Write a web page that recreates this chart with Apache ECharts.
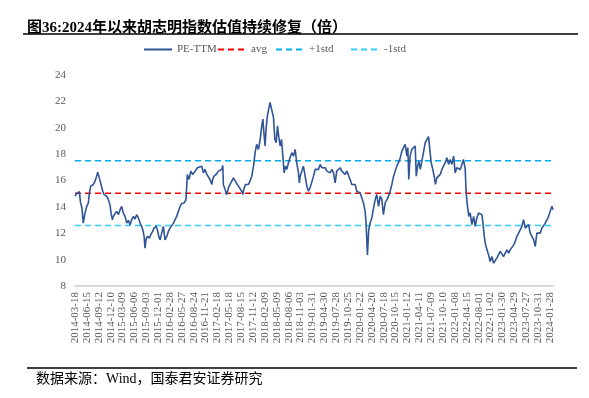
<!DOCTYPE html>
<html>
<head>
<meta charset="utf-8">
<title>胡志明指数估值</title>
<script src="https://cdn.jsdelivr.net/npm/echarts@6/dist/echarts.min.js"></script>
<style>
html, body { margin: 0; padding: 0; background: #fff; }
#main { width: 589px; height: 398px; }
</style>
</head>
<body>
<div id="main"></div>
<script>
// 横轴：数据点序号（原图每 89 个点标一个日期）
var idx = [0,12,25,32,42,52,62,75,88,100,108,118,138,150,162,170,182,195,208,218,230,238,250,262,270,280,288,300,312,325,338,350,362,375,388,400,412,425,438,450,462,475,488,500,508,518,525,532,542,558,568,582,592,608,618,628,638,650,662,675,688,700,712,725,738,750,762,775,788,800,818,832,842,855,868,882,900,918,932,950,962,975,988,1000,1012,1025,1032,1042,1058,1075,1088,1100,1108,1112,1125,1138,1150,1162,1175,1188,1200,1212,1225,1238,1250,1258,1268,1278,1288,1300,1312,1325,1338,1350,1362,1375,1388,1400,1408,1418,1425,1432,1442,1452,1462,1475,1488,1498,1508,1518,1528,1538,1548,1558,1568,1578,1588,1600,1612,1625,1638,1650,1662,1675,1682,1688,1700,1712,1725,1738,1750,1762,1775,1788,1800,1812,1825,1838,1850,1862,1875,1888,1900,1912,1925,1938,1950,1962,1975,1988,2000,2012,2025,2038,2050,2062,2075,2088,2100,2112,2125,2138,2150,2162,2175,2182,2192,2202,2212,2225,2238,2250,2262,2275,2288,2300,2312,2325,2338,2350,2362,2375,2388,2400,2412,2425,2438,2450,2462,2475,2488,2495,2502,2512,2525,2538,2550,2558,2568,2578,2588,2600,2612,2625,2638,2650,2662,2670,2682,2692,2702,2712,2725,2738,2750,2762,2775,2788,2800,2812,2825,2838,2850,2862,2875,2888,2900,2912,2925,2932,2942,2952,2962,2975,2988,3000,3012,3025,3038,3050,3058,3068,3075,3088,3100,3112,3125,3138,3150,3162,3175,3188,3200,3212,3225,3238,3250,3262,3275,3288,3300,3312,3325,3338,3350,3362,3375,3388,3400,3412,3425,3438,3450,3462,3475,3488,3500,3512,3525,3538,3550,3562,3575,3583];
// PE-TTM（倍）
var pe = [14.81,15.0,14.93,15.15,14.30,13.92,12.77,13.54,14.04,14.30,15.06,15.57,15.70,15.95,16.33,16.63,16.20,15.70,15.19,14.93,15.06,14.81,14.55,14.17,13.54,13.03,13.28,13.49,13.66,13.41,13.79,14.04,13.54,13.28,12.77,12.98,12.65,13.03,13.28,13.08,13.41,13.16,12.77,12.52,12.27,11.76,10.87,11.50,11.76,11.63,11.89,12.14,12.39,12.52,12.27,11.76,11.50,11.63,12.52,11.50,11.76,12.14,12.39,12.52,12.77,13.03,13.28,13.66,14.04,14.25,14.30,14.55,16.46,16.08,16.71,16.46,16.71,16.97,16.84,17.09,16.58,16.84,16.46,16.33,16.08,15.70,16.08,16.33,16.46,16.71,16.58,16.84,17.14,15.70,15.31,14.93,15.44,15.70,15.95,16.20,16.08,15.77,15.57,15.62,15.19,14.93,15.44,15.70,15.82,15.70,15.95,16.33,17.09,18.11,18.74,18.36,19.12,20.14,20.65,19.38,18.62,19.89,20.90,21.41,21.92,22.04,20.77,19.12,18.87,20.14,19.25,18.62,19.12,17.85,16.58,17.09,16.84,17.35,17.73,18.11,17.85,18.36,17.35,16.58,15.82,16.33,16.46,17.09,16.33,15.57,15.19,15.44,15.57,16.33,16.84,16.97,16.84,17.22,16.97,16.84,16.97,16.71,16.84,16.58,16.84,16.58,15.82,16.71,16.84,16.97,16.71,16.84,16.46,16.71,16.58,16.08,15.70,15.57,15.70,15.19,15.31,15.06,14.68,14.30,13.66,12.77,10.36,12.27,12.77,13.16,13.92,14.55,14.93,14.04,14.81,14.55,13.41,14.30,14.55,14.81,15.19,15.70,16.33,16.46,17.09,17.35,17.73,18.23,18.49,18.74,17.85,18.49,16.08,17.85,18.36,18.49,18.62,16.33,17.09,17.47,16.84,16.97,18.11,18.87,19.00,19.33,18.11,17.35,16.84,16.33,15.70,16.20,16.33,16.46,16.84,17.09,17.35,17.73,17.22,17.60,17.22,17.85,16.58,16.97,17.09,16.84,17.22,17.60,16.84,15.06,14.04,13.28,13.54,12.65,13.28,12.52,13.16,13.54,13.66,13.41,12.77,11.76,11.25,10.74,10.36,9.85,10.23,9.73,9.60,10.11,9.98,10.62,10.49,10.23,10.49,10.74,10.49,10.74,10.62,11.12,11.38,11.76,12.01,12.27,12.52,13.03,12.39,12.52,12.65,12.01,11.76,11.50,11.00,12.01,12.14,12.01,12.39,12.52,12.77,13.03,13.28,13.66,14.04,13.79];

// 横轴日期标签
var tickLabels = ['2014-03-18','2014-06-15','2014-09-12','2014-12-10','2015-03-09','2015-06-06','2015-09-03','2015-12-01',
	'2016-02-28','2016-05-27','2016-08-24','2016-11-21','2017-02-18','2017-05-18','2017-08-15','2017-11-12',
	'2018-02-09','2018-05-09','2018-08-06','2018-11-03','2019-01-31','2019-04-30','2019-07-28','2019-10-25',
	'2020-01-22','2020-04-20','2020-07-18','2020-10-15','2021-01-12','2021-04-11','2021-07-09','2021-10-10',
	'2022-01-08','2022-04-15','2022-08-01','2022-11-02','2023-01-30','2023-04-29','2023-07-27','2023-10-31','2024-01-28'];

// 均值与标准差
var avgPE = 15.04;
var stdPE = 2.46;

var labelStep = 89;
var endIdx = 3583;
var yTicks = [8, 24, 2]; // min, max, interval

var serif = '"Liberation Serif", "Noto Sans CJK SC", serif';
var gray = '#595959';

var peData = idx.map(function(d, i) { return [d, pe[i]]; });
var flat = function(v) { return [[0, v], [endIdx, v]]; };
var dash = [6, 4];

var myChart = echarts.init(document.getElementById('main'));
var option = {
	animation: false,
	backgroundColor: '#fff',
	title: {
		text: '图36:2024年以来胡志明指数估值持续修复（倍）',
		left: 22,
		top: 16,
		textStyle: { fontFamily: serif, fontSize: 15, fontWeight: 'bold', color: '#000' }
	},
	// 图例分开放，按原图位置摆
	legend: [
		{ data: ['PE-TTM'], left: 143 },
		{ data: ['avg'], left: 217 },
		{ data: ['+1std'], left: 275 },
		{ data: ['-1std'], left: 350 }
	].map(function(l) {
		l.top = 44;
		l.padding = 0;
		l.itemWidth = 28;
		l.itemHeight = 10;
		l.itemGap = 5;
		l.itemStyle = { opacity: 0 };
		l.textStyle = { fontFamily: serif, fontSize: 11, color: gray };
		return l;
	}),
	grid: { left: 75, right: 36, top: 75, bottom: 112 },
	xAxis: {
		type: 'value',
		min: 0,
		max: endIdx,
		interval: labelStep,
		axisLine: { show: true, lineStyle: { color: '#d9d9d9', width: 2 } },
		axisTick: { show: false },
		splitLine: { show: false },
		axisLabel: {
			rotate: 90,
			margin: 6,
			fontFamily: serif,
			fontSize: 11,
			color: gray,
			showMaxLabel: false,
			formatter: function(v) {
				if (v % labelStep !== 0) return '';
				return tickLabels[v / labelStep] || '';
			}
		}
	},
	yAxis: {
		type: 'value',
		min: yTicks[0],
		max: yTicks[1],
		interval: yTicks[2],
		axisLine: { show: false },
		axisTick: { show: false },
		splitLine: { show: false },
		axisLabel: { margin: 9, fontFamily: serif, fontSize: 11, color: gray }
	},
	series: [
		{
			name: 'avg', type: 'line', symbol: 'none', data: flat(avgPE), z: 2,
			lineStyle: { color: '#ff0000', width: 1.5, type: dash }, itemStyle: { color: '#ff0000' }
		},
		{
			name: '+1std', type: 'line', symbol: 'none', data: flat(avgPE + stdPE), z: 2,
			lineStyle: { color: '#00b0f0', width: 1.5, type: dash }, itemStyle: { color: '#00b0f0' }
		},
		{
			name: '-1std', type: 'line', symbol: 'none', data: flat(avgPE - stdPE), z: 2,
			lineStyle: { color: '#33ccff', width: 1.5, type: dash }, itemStyle: { color: '#33ccff' }
		},
		{
			name: 'PE-TTM', type: 'line', symbol: 'none', data: peData, z: 3,
			lineStyle: { color: '#2f5597', width: 1.6 }, itemStyle: { color: '#2f5597' }
		}
	],
	graphic: [
		// 标题下划线
		{ type: 'line', shape: { x1: 23, y1: 34, x2: 578, y2: 34 }, style: { stroke: '#000', lineWidth: 1.5 } },
		// 底部分隔线
		{ type: 'line', shape: { x1: 27, y1: 368, x2: 577, y2: 368 }, style: { stroke: '#000', lineWidth: 1.5 } },
		{
			type: 'text', left: 36, top: 372,
			style: { text: '数据来源：Wind，国泰君安证券研究', font: '14px ' + serif, fill: '#000' }
		}
	]
};
myChart.setOption(option);
</script>
</body>
</html>
